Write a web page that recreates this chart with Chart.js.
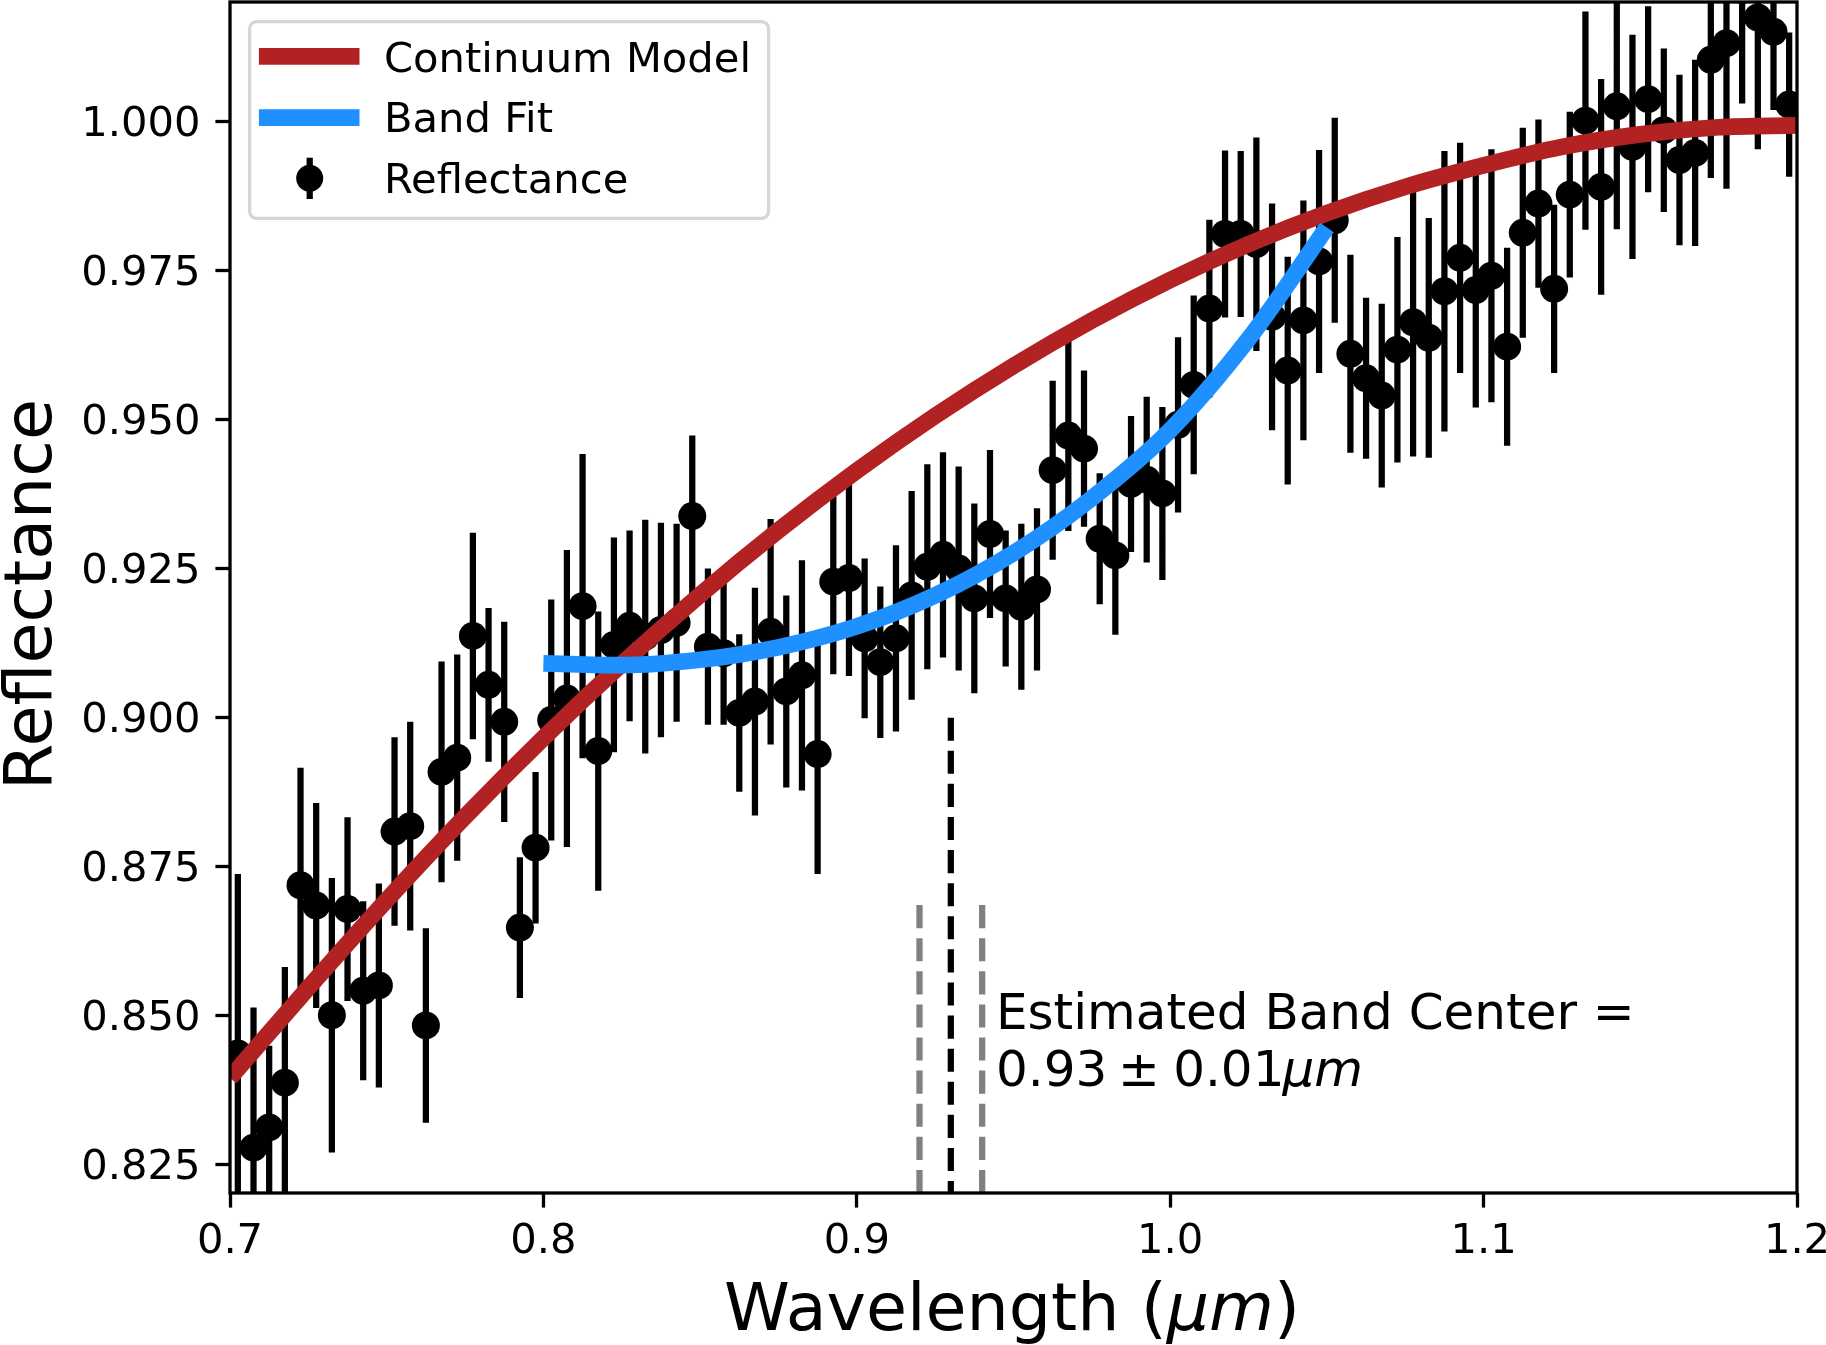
<!DOCTYPE html>
<html>
<head>
  <title>Band Center Fit</title>
  <script src="https://cdn.jsdelivr.net/npm/chart.js"></script>
  <style>
    html, body { margin: 0; padding: 0; background: #fff; }
    #chart { display: block; }
  </style>
</head>
<body>
  <canvas id="chart" width="1826" height="1345"></canvas>

  <script>
    // measured spectrum (wavelength in um)
    const wavelength = [
      0.7025, 0.7075, 0.7125, 0.7175, 0.7225, 0.7275, 0.7325, 0.7375, 0.7425, 0.7475,
      0.7525, 0.7575, 0.7625, 0.7675, 0.7725, 0.7775, 0.7825, 0.7875, 0.7925, 0.7975,
      0.8025, 0.8075, 0.8125, 0.8175, 0.8225, 0.8275, 0.8325, 0.8375, 0.8425, 0.8475,
      0.8525, 0.8575, 0.8625, 0.8675, 0.8725, 0.8775, 0.8825, 0.8875, 0.8925, 0.8975,
      0.9025, 0.9075, 0.9125, 0.9175, 0.9225, 0.9275, 0.9325, 0.9375, 0.9425, 0.9475,
      0.9525, 0.9575, 0.9625, 0.9675, 0.9725, 0.9775, 0.9825, 0.9875, 0.9925, 0.9975,
      1.0025, 1.0075, 1.0125, 1.0175, 1.0225, 1.0275, 1.0325, 1.0375, 1.0425, 1.0475,
      1.0525, 1.0575, 1.0625, 1.0675, 1.0725, 1.0775, 1.0825, 1.0875, 1.0925, 1.0975,
      1.1025, 1.1075, 1.1125, 1.1175, 1.1225, 1.1275, 1.1325, 1.1375, 1.1425, 1.1475,
      1.1525, 1.1575, 1.1625, 1.1675, 1.1725, 1.1775, 1.1825, 1.1875, 1.1925, 1.1975
    ];
    const reflectance = [
      0.8437, 0.8279, 0.8313, 0.8388, 0.8719, 0.8685, 0.8501, 0.8679, 0.8542, 0.8551,
      0.8809, 0.8818, 0.8484, 0.8909, 0.8933, 0.9137, 0.9055, 0.8993, 0.8648, 0.8782,
      0.8996, 0.9032, 0.9187, 0.8944, 0.9122, 0.9154, 0.9136, 0.9147, 0.9159, 0.9338,
      0.9119, 0.9108, 0.9008, 0.9027, 0.9144, 0.9044, 0.9071, 0.8939, 0.9228, 0.9234,
      0.9133, 0.9093, 0.9133, 0.9205, 0.9253, 0.9273, 0.9250, 0.9200, 0.9308, 0.9200,
      0.9186, 0.9215, 0.9415, 0.9473, 0.9451, 0.9300, 0.9272, 0.9392, 0.9399, 0.9376,
      0.9491, 0.9558, 0.9686, 0.9811, 0.9811, 0.9794, 0.9672, 0.9582, 0.9666, 0.9765,
      0.9834, 0.9610, 0.9569, 0.9540, 0.9617, 0.9663, 0.9637, 0.9715, 0.9771, 0.9717,
      0.9741, 0.9622, 0.9813, 0.9862, 0.9719, 0.9877, 1.0001, 0.9890, 1.0025, 0.9957,
      1.0037, 0.9985, 0.9935, 0.9947, 1.0103, 1.0131, 1.0220, 1.0174, 1.0150, 1.0028
    ];
    const reflectanceErr = [
      0.0301, 0.0235, 0.0137, 0.0194, 0.0197, 0.0172, 0.0230, 0.0154, 0.0150, 0.0171,
      0.0158, 0.0175, 0.0163, 0.0185, 0.0173, 0.0173, 0.0129, 0.0168, 0.0118, 0.0127,
      0.0202, 0.0249, 0.0255, 0.0234, 0.0180, 0.0160, 0.0196, 0.0180, 0.0166, 0.0135,
      0.0131, 0.0120, 0.0132, 0.0191, 0.0189, 0.0161, 0.0193, 0.0201, 0.0155, 0.0164,
      0.0134, 0.0127, 0.0156, 0.0175, 0.0172, 0.0172, 0.0171, 0.0159, 0.0141, 0.0114,
      0.0139, 0.0136, 0.0150, 0.0160, 0.0131, 0.0110, 0.0133, 0.0114, 0.0139, 0.0145,
      0.0147, 0.0150, 0.0149, 0.0140, 0.0139, 0.0179, 0.0190, 0.0191, 0.0201, 0.0187,
      0.0172, 0.0166, 0.0135, 0.0154, 0.0189, 0.0225, 0.0201, 0.0235, 0.0193, 0.0197,
      0.0212, 0.0166, 0.0176, 0.0141, 0.0141, 0.0139, 0.0183, 0.0181, 0.0206, 0.0188,
      0.0156, 0.0137, 0.0143, 0.0156, 0.0198, 0.0244, 0.0190, 0.0221, 0.0131, 0.0121
    ];

    // continuum model
    const continuumWave = [0.700, 0.725, 0.750, 0.775, 0.800, 0.825, 0.850, 0.875, 0.900, 0.925, 0.950,
                           0.975, 1.000, 1.025, 1.050, 1.075, 1.100, 1.125, 1.150, 1.175, 1.200];
    const continuumModel = [0.8396, 0.8547, 0.8694, 0.8834, 0.8966, 0.9090, 0.9206, 0.9314, 0.9414, 0.9506, 0.9590,
                            0.9666, 0.9734, 0.9794, 0.9846, 0.9890, 0.9926, 0.9957, 0.9978, 0.9990, 0.9993];

    // band fit
    const bandWave = [0.800, 0.825, 0.850, 0.875, 0.900, 0.925, 0.950, 0.975, 1.000, 1.025, 1.050];
    const bandFit = [0.9091, 0.9088, 0.9097, 0.9118, 0.9153, 0.9205, 0.9276, 0.9368, 0.9482, 0.9635, 0.9822];

    const bandCenter = 0.93;
    const bandCenterErr = 0.01;
    const centerLineTop = 0.90;
    const errLineTop = 0.87;

    const xTicks = [0.7, 0.8, 0.9, 1.0, 1.1, 1.2];
    const yTicks = [0.825, 0.850, 0.875, 0.900, 0.925, 0.950, 0.975, 1.000];
    const xMin = 0.7, xMax = 1.2;
    const yMin = 0.8203, yMax = 1.0200;

    const FONT = "'DejaVu Sans'";
    const toXY = (xs, ys) => xs.map((x, i) => ({ x: x, y: ys[i] }));

    // error bars, frame, legend, annotation and axis titles
    const extras = {
      id: 'extras',
      beforeDatasetsDraw(chart) {
        const { ctx, chartArea: a, scales: { x, y } } = chart;
        ctx.save();
        ctx.beginPath();
        ctx.rect(a.left, a.top, a.right - a.left, a.bottom - a.top);
        ctx.clip();
        ctx.strokeStyle = '#000';
        ctx.lineWidth = 6.25;
        ctx.lineCap = 'butt';
        ctx.beginPath();
        wavelength.forEach((w, i) => {
          const px = x.getPixelForValue(w);
          ctx.moveTo(px, y.getPixelForValue(reflectance[i] - reflectanceErr[i]));
          ctx.lineTo(px, y.getPixelForValue(reflectance[i] + reflectanceErr[i]));
        });
        ctx.stroke();
        ctx.restore();
      },
      afterDatasetsDraw(chart) {
        const { ctx, chartArea: a } = chart;
        ctx.save();
        ctx.strokeStyle = '#000';
        ctx.lineWidth = 3.3;
        ctx.strokeRect(a.left, a.top, a.right - a.left, a.bottom - a.top);
        ctx.restore();
      },
      afterDraw(chart) {
        const { ctx, chartArea: a, scales: { x, y } } = chart;
        const ds = chart.data.datasets;
        ctx.save();

        // legend
        const L = a.left + 19.6, T = a.top + 19.7, W = 519, H = 196.6, r = 7;
        ctx.beginPath();
        ctx.moveTo(L + r, T);
        ctx.lineTo(L + W - r, T);
        ctx.arcTo(L + W, T, L + W, T + r, r);
        ctx.lineTo(L + W, T + H - r);
        ctx.arcTo(L + W, T + H, L + W - r, T + H, r);
        ctx.lineTo(L + r, T + H);
        ctx.arcTo(L, T + H, L, T + H - r, r);
        ctx.lineTo(L, T + r);
        ctx.arcTo(L, T, L + r, T, r);
        ctx.closePath();
        ctx.fillStyle = 'rgba(255,255,255,0.8)';
        ctx.fill();
        ctx.strokeStyle = '#d6d6d6';
        ctx.lineWidth = 3.3;
        ctx.stroke();

        ctx.lineCap = 'butt';
        [[ds[0], 34.6], [ds[1], 96]].forEach(([d, dy]) => {
          ctx.strokeStyle = d.borderColor;
          ctx.lineWidth = d.borderWidth;
          ctx.beginPath();
          ctx.moveTo(L + 9.3, T + dy);
          ctx.lineTo(L + 109.9, T + dy);
          ctx.stroke();
        });
        ctx.strokeStyle = '#000';
        ctx.lineWidth = 6.25;
        ctx.beginPath();
        ctx.moveTo(L + 60.1, T + 136);
        ctx.lineTo(L + 60.1, T + 177.3);
        ctx.stroke();
        ctx.fillStyle = '#000';
        ctx.beginPath();
        ctx.arc(L + 60.1, T + 156.6, 13.5, 0, Math.PI * 2);
        ctx.fill();

        ctx.font = '41.67px ' + FONT;
        ctx.textBaseline = 'alphabetic';
        ctx.textAlign = 'left';
        ctx.fillText(ds[0].label, L + 134.4, T + 49.8);
        ctx.fillText(ds[1].label, L + 134.4, T + 110.6);
        ctx.fillText(ds[2].label, L + 134.4, T + 171.3);

        // band center annotation
        const tx = x.getPixelForValue(0.9444);
        const b2 = y.getPixelForValue(0.83825);
        ctx.font = '50px ' + FONT;
        ctx.fillText('Estimated Band Center =', tx, b2 - 56.7);
        const errText = bandCenterErr.toFixed(2);
        ctx.fillText(bandCenter.toFixed(2), tx, b2);
        ctx.fillText('\u00b1', tx + 122, b2);
        ctx.fillText(errText, tx + 177.2, b2);
        const ew = ctx.measureText(errText).width;
        ctx.font = 'italic 50px ' + FONT;
        ctx.fillText('\u03bcm', tx + 177.2 + ew - 2, b2);

        // x axis title
        const p1 = 'Wavelength (', p2 = '\u03bcm', p3 = ')';
        ctx.font = '66.67px ' + FONT;
        const w1 = ctx.measureText(p1).width, w3 = ctx.measureText(p3).width;
        ctx.font = 'italic 66.67px ' + FONT;
        const w2 = ctx.measureText(p2).width;
        const sx = (a.left + a.right) / 2 - 1.5 - (w1 + w2 + w3) / 2;
        const by = chart.height - 15;
        ctx.font = '66.67px ' + FONT;
        ctx.fillText(p1, sx, by);
        ctx.font = 'italic 66.67px ' + FONT;
        ctx.fillText(p2, sx + w1, by);
        ctx.font = '66.67px ' + FONT;
        ctx.fillText(p3, sx + w1 + w2, by);

        // y axis title
        ctx.translate(50.7, (a.top + a.bottom) / 2 - 3);
        ctx.rotate(-Math.PI / 2);
        ctx.textAlign = 'center';
        ctx.fillText('Reflectance', 0, 0);
        ctx.restore();
      }
    };

    const tickFont = { family: FONT, size: 41.67 };

    new Chart(document.getElementById('chart').getContext('2d'), {
      type: 'line',
      data: {
        datasets: [
          {
            label: 'Continuum Model',
            data: toXY(continuumWave, continuumModel),
            borderColor: '#b22222',
            borderWidth: 16.7,
            pointRadius: 0,
            cubicInterpolationMode: 'monotone',
            borderJoinStyle: 'round',
            order: 2
          },
          {
            label: 'Band Fit',
            data: toXY(bandWave, bandFit),
            borderColor: '#1e90ff',
            borderWidth: 16.7,
            pointRadius: 0,
            cubicInterpolationMode: 'monotone',
            borderJoinStyle: 'round',
            order: 1
          },
          {
            label: 'Reflectance',
            data: toXY(wavelength, reflectance),
            showLine: false,
            pointRadius: 14,
            pointBackgroundColor: '#000',
            pointBorderWidth: 0,
            borderColor: '#000',
            order: 5
          },
          {
            label: 'center',
            data: [{ x: bandCenter, y: centerLineTop }, { x: bandCenter, y: yMin }],
            borderColor: '#000',
            borderWidth: 6.25,
            borderDash: [23.1, 10],
            pointRadius: 0,
            order: 4
          },
          {
            label: 'center-low',
            data: [{ x: bandCenter - bandCenterErr, y: yMin }, { x: bandCenter - bandCenterErr, y: errLineTop }],
            borderColor: '#808080',
            borderWidth: 6.25,
            borderDash: [23.1, 10],
            pointRadius: 0,
            order: 4
          },
          {
            label: 'center-high',
            data: [{ x: bandCenter + bandCenterErr, y: yMin }, { x: bandCenter + bandCenterErr, y: errLineTop }],
            borderColor: '#808080',
            borderWidth: 6.25,
            borderDash: [23.1, 10],
            pointRadius: 0,
            order: 4
          }
        ]
      },
      options: {
        responsive: false,
        animation: false,
        devicePixelRatio: 1,
        events: [],
        layout: { autoPadding: false, padding: { left: 0, right: 29, top: 2, bottom: 0 } },
        plugins: { legend: { display: false }, tooltip: { enabled: false } },
        scales: {
          x: {
            type: 'linear',
            min: xMin,
            max: xMax,
            afterBuildTicks: s => { s.ticks = xTicks.map(v => ({ value: v })); },
            afterFit: s => { s.height = 152; s.paddingLeft = 0; s.paddingRight = 0; },
            border: { display: false },
            grid: { drawOnChartArea: false, drawTicks: true, tickLength: 14.6, tickWidth: 3.3, tickColor: '#000' },
            ticks: { font: tickFont, color: '#000', padding: 10, autoSkip: false, maxRotation: 0,
                     callback: v => v.toFixed(1) }
          },
          y: {
            min: yMin,
            max: yMax,
            afterBuildTicks: s => { s.ticks = yTicks.map(v => ({ value: v })); },
            afterFit: s => { s.width = 230; s.paddingTop = 0; s.paddingBottom = 0; },
            border: { display: false },
            grid: { drawOnChartArea: false, drawTicks: true, tickLength: 14.6, tickWidth: 3.3, tickColor: '#000' },
            ticks: { font: tickFont, color: '#000', padding: 15, labelOffset: 3.5, autoSkip: false,
                     callback: v => v.toFixed(3) }
          }
        }
      },
      plugins: [extras]
    });
  </script>
</body>
</html>
